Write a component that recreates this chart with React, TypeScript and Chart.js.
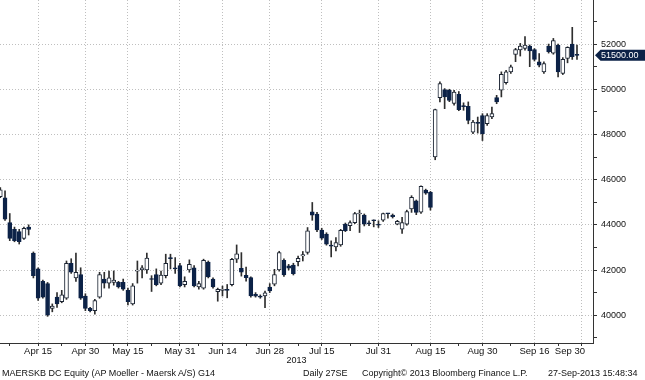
import React, { useEffect, useRef } from "react";
import { Chart, registerables } from "chart.js";

Chart.register(...registerables);

// Trading days (2013)
const dates = [
  "04-03","04-04","04-05","04-08","04-09","04-10","04-11","04-12","04-15","04-16","04-17","04-18","04-19","04-22","04-23","04-24","04-25","04-29","04-30",
  "05-01","05-02","05-03","05-06","05-07","05-08","05-13","05-14","05-15","05-16","05-17","05-21","05-22","05-23","05-24","05-27","05-28","05-29","05-30","05-31",
  "06-03","06-04","06-06","06-07","06-10","06-11","06-12","06-13","06-14","06-17","06-18","06-19","06-20","06-21","06-24","06-25","06-26","06-27","06-28",
  "07-01","07-02","07-03","07-04","07-05","07-08","07-09","07-10","07-11","07-12","07-15","07-16","07-17","07-18","07-19","07-22","07-23","07-24","07-25","07-26","07-29","07-30","07-31",
  "08-01","08-02","08-05","08-06","08-07","08-08","08-09","08-12","08-13","08-14","08-15","08-16","08-19","08-20","08-21","08-22","08-23","08-26","08-27","08-28","08-29","08-30",
  "09-02","09-03","09-04","09-05","09-06","09-09","09-10","09-11","09-12","09-13","09-16","09-17","09-18","09-19","09-20","09-23","09-24","09-25","09-26","09-27",
];

const open = [
  45250,45200,44100,43800,43700,43400,43900,42750,42050,41500,41400,40300,40800,40600,40750,42300,41650,41800,40850,
  40300,40200,40800,41600,41420,41450,41450,41450,41100,40500,41950,42000,42000,41620,41800,41420,41750,42550,42100,42200,
  41350,42000,42100,41250,41200,42350,41600,41040,41100,41150,41350,42480,42080,41760,41660,40920,40850,40850,41250,
  41370,42000,42430,42180,42220,42370,42620,42780,44580,44475,43770,43590,43100,43020,43110,44030,43960,44100,44480,44430,44080,44200,44000,
  44210,44500,44430,44030,43810,44030,44700,45067,44560,45540,45440,47000,49630,49985,49960,49370,49780,49260,49245,48100,48520,48840,
  48480,48770,49630,49960,50290,50770,51540,51740,51810,51910,51760,51215,50770,51910,51600,51960,50700,51360,52000,51550,
];
const high = [
  45650,45500,44500,43900,43800,43900,44000,42800,42100,41550,41450,40500,41000,41100,42400,42500,42750,42100,40950,
  40350,40700,41900,41900,41950,41960,41500,41600,41200,41400,42400,42200,42750,41750,42050,41950,42700,42700,42550,42300,
  41700,42450,42200,41500,42480,42400,41650,41200,41290,41360,42520,43110,42770,42130,41700,41000,40900,41070,41400,
  42030,42830,42500,42250,42300,42620,42820,43880,44990,44550,43850,43650,43290,43440,43800,44080,44180,44550,44650,44480,44180,44220,44180,
  44520,44510,44480,44200,44330,44650,45290,45100,45730,45580,45480,49120,50330,50030,50000,49950,49900,49400,49440,48620,48770,48920,
  48920,49215,49730,50770,50840,51070,51810,52030,52330,51960,51800,51580,51215,52000,52250,52000,51400,51880,52740,51950,
];
const low = [
  45200,44200,43300,43250,43150,43350,43550,41650,40650,40750,39950,40150,40350,40550,40700,41850,41500,40700,40200,
  40150,40050,40750,41200,41200,41330,41200,41100,40450,40450,41420,41650,41850,41050,41300,41350,41650,42050,41850,41250,
  41250,41900,41250,41150,41150,41650,41200,40620,40850,40770,41300,42330,41730,41510,40800,40800,40750,40330,41000,
  41300,41950,41720,42000,41780,42180,42400,42700,44200,43700,43350,43100,42580,42850,43050,43700,43740,44050,43660,43950,43960,43910,43880,
  44150,44300,44300,44000,43620,43980,44550,44450,44500,45350,44650,46880,49440,49140,49450,49300,49050,49070,48470,48030,48060,47730,
  48400,48700,49360,49660,50220,50700,51220,51470,51730,51000,51250,50990,50700,51600,51550,50550,50650,51170,51320,51320,
];
const close = [
  45550,44250,43400,43300,43250,43850,43800,41750,40750,40800,40000,40400,40500,40900,42300,41900,41900,40750,40300,
  40200,40650,41800,41420,41650,41550,41250,41150,40600,41300,41980,42100,42530,41580,41350,41780,42300,42500,42050,41300,
  41500,42250,41300,41400,42430,41700,41250,41140,41150,41100,42470,42720,41910,41660,40850,40840,40800,40990,41070,
  41800,42770,41780,42080,41840,42520,42680,43730,44430,43770,43410,43140,43050,43215,43760,43740,44100,44500,44520,44030,44040,44180,43980,
  44500,44490,44360,44150,44100,44590,45215,44550,45700,45400,44770,49100,50250,49660,49510,49880,49100,49230,48620,48550,48490,48030,
  48840,48920,49440,50660,50770,50990,51760,51910,51950,51700,51320,51070,51140,51660,52150,50770,51320,51850,51440,51500,
];

// Axis content
const axisDates = [...dates, "09-30"];
const majorTickDates = ["04-15","04-30","05-15","05-31","06-14","06-28","07-15","07-31","08-15","08-30","09-16","09-30"];
const majorTickLabels = ["Apr 15","Apr 30","May 15","May 31","Jun 14","Jun 28","Jul 15","Jul 31","Aug 15","Aug 30","Sep 16","Sep 30"];
const minorTickDates = ["04-05","04-22","05-08","05-23","06-07","06-21","07-08","07-23","08-09","08-23","09-09","09-23"];
const yTickValues = [39000,40000,41000,42000,43000,44000,45000,46000,47000,48000,49000,50000,51000,52000,53000];
const yLabelValues = [40000,42000,44000,46000,48000,50000,52000];
const yMin = 38770;
const yMax = 53950;
const xTitle = "2013";
const lastPriceLabel = "51500.00";
const footerTexts = [
  "MAERSKB DC Equity (AP Moeller - Maersk A/S) G14",
  "Daily 27SE",
  "Copyright\u00A9 2013 Bloomberg Finance L.P.",
  "27-Sep-2013 15:48:34",
];

const FONT = "'Liberation Sans', Arial, sans-serif";
const DOWN = "#0c2247";
const UP_FILL = "#ffffff";
const UP_EDGE = "#1b2433";
const WICK = "#2e2e2e";
const GRID = "#bfbfbf";
const AXIS = "#333333";
const CLEAR = "rgba(0,0,0,0)";

type XTick = { value: number; label: string; mark: boolean; grid: boolean };

export default function App() {
  const ref = useRef<HTMLCanvasElement | null>(null);

  useEffect(() => {
    if (!ref.current) return;
    const list: XTick[] = [];
    const nMajor = majorTickDates.length;
    majorTickDates.forEach((d, i) => {
      const v = axisDates.indexOf(d);
      if (i === nMajor - 1) {
        // last label sits left of its tick so it stays inside the axis
        list.push({ value: v, label: "", mark: true, grid: true });
        list.push({ value: v - 2.5, label: majorTickLabels[i], mark: false, grid: false });
      } else {
        list.push({ value: v, label: majorTickLabels[i], mark: true, grid: true });
      }
    });
    minorTickDates.forEach((d) => {
      list.push({ value: axisDates.indexOf(d), label: "", mark: true, grid: false });
    });
    list.sort((a, b) => a.value - b.value);

    const slot = 4.727; // px per trading day
    const xMin = -0.3 / slot;
    const xMax = xMin + 593 / slot;

    const isUp = dates.map((_, i) => close[i] >= open[i]);

    const priceTag = {
      id: "priceTag",
      afterDraw(chart: any) {
        const ys = chart.scales.y;
        const y = ys.getPixelForValue(close[close.length - 1]);
        const x0 = ys.left + 2;
        const ctx = chart.ctx;
        ctx.save();
        ctx.beginPath();
        ctx.moveTo(x0, y);
        ctx.lineTo(x0 + 5.5, y - 5.5);
        ctx.lineTo(chart.width, y - 5.5);
        ctx.lineTo(chart.width, y + 5.5);
        ctx.lineTo(x0 + 5.5, y + 5.5);
        ctx.closePath();
        ctx.fillStyle = DOWN;
        ctx.fill();
        ctx.fillStyle = "#ffffff";
        ctx.font = `9px ${FONT}`;
        ctx.textBaseline = "middle";
        ctx.textAlign = "left";
        ctx.fillText(lastPriceLabel, x0 + 6, y + 0.5);
        ctx.restore();
      },
    };

    const chart = new Chart(ref.current, {
      type: "bar",
      data: {
        datasets: [
          {
            label: "body",
            data: dates.map((_, i) => ({ x: i, y: [open[i], close[i]] })) as any,
            barThickness: 4,
            backgroundColor: isUp.map((u) => (u ? UP_FILL : DOWN)),
            borderColor: isUp.map((u) => (u ? UP_EDGE : DOWN)),
            borderWidth: 1,
            borderSkipped: false,
            grouped: false,
            minBarLength: 1,
            order: 0,
          } as any,
          {
            label: "wick",
            data: dates.map((_, i) => ({ x: i, y: [low[i], high[i]] })) as any,
            barThickness: 1,
            backgroundColor: WICK,
            borderWidth: 0,
            grouped: false,
            order: 1,
          } as any,
        ],
      },
      options: {
        animation: false,
        responsive: false,
        maintainAspectRatio: false,
        layout: { padding: { left: 0, right: 0, top: 0, bottom: 14 } },
        plugins: { legend: { display: false }, tooltip: { enabled: false } },
        scales: {
          x: {
            type: "linear",
            position: "bottom",
            min: xMin,
            max: xMax,
            offset: false,
            grid: {
              offset: false,
              color: (c: any) => (list[c.index] && list[c.index].grid ? GRID : CLEAR),
              lineWidth: 1,
              drawTicks: true,
              tickLength: 3,
              tickColor: (c: any) => (list[c.index] && list[c.index].mark ? AXIS : CLEAR),
            },
            border: { display: true, color: AXIS, width: 1, dash: [1, 2] },
            ticks: {
              autoSkip: false,
              maxRotation: 0,
              minRotation: 0,
              padding: 0,
              color: "#111",
              font: { family: FONT, size: 9.5 },
              callback: (_v: any, i: number) => (list[i] ? list[i].label : ""),
            },
            title: {
              display: true,
              text: xTitle,
              color: "#111",
              padding: { top: 0, bottom: 0 },
              font: { family: FONT, size: 9 },
            },
            afterBuildTicks: (s: any) => {
              s.ticks = list.map((t) => ({ value: t.value }));
            },
            afterFit: (s: any) => {
              s.height = 23;
              s.paddingLeft = 0;
              s.paddingRight = 0;
              s.paddingTop = 0;
              s.paddingBottom = 0;
            },
          } as any,
          y: {
            type: "linear",
            position: "right",
            min: yMin,
            max: yMax,
            grid: {
              color: (c: any) => (c.tick && yLabelValues.includes(c.tick.value) ? GRID : CLEAR),
              lineWidth: 1,
              drawTicks: true,
              tickLength: 4,
              tickColor: AXIS,
            },
            border: { display: true, color: AXIS, width: 1, dash: [1, 2] },
            ticks: {
              padding: 4,
              color: "#111",
              font: { family: FONT, size: 9 },
              callback: (v: any) => (yLabelValues.includes(Number(v)) ? String(v) : ""),
            },
            afterBuildTicks: (s: any) => {
              s.ticks = yTickValues.map((v) => ({ value: v }));
            },
            afterFit: (s: any) => {
              s.width = 52;
              s.paddingLeft = 0;
              s.paddingRight = 0;
              s.paddingTop = 0;
              s.paddingBottom = 0;
            },
          } as any,
        },
      },
      plugins: [priceTag],
    });
    return () => chart.destroy();
  }, []);

  const footerLeft = [2, 303, 362, 548];
  return (
    <div
      style={{
        position: "absolute",
        left: 0,
        top: 0,
        width: 645,
        height: 380,
        background: "#ffffff",
        overflow: "hidden",
      }}
    >
      <canvas ref={ref} width={645} height={380} style={{ display: "block", position: "absolute", left: 0, top: 0 }} />
      {footerTexts.map((t, i) => (
        <span
          key={i}
          style={{
            position: "absolute",
            left: footerLeft[i],
            top: 367,
            fontFamily: FONT,
            fontSize: 9,
            lineHeight: "12px",
            color: "#111",
            whiteSpace: "nowrap",
          }}
        >
          {t}
        </span>
      ))}
    </div>
  );
}
